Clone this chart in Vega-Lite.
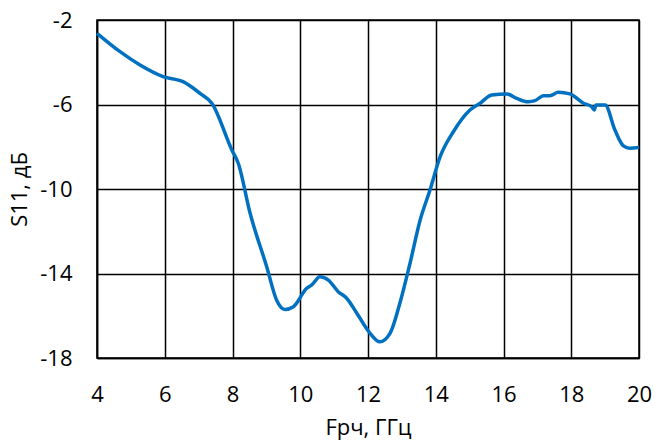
{
  "$schema": "https://vega.github.io/schema/vega-lite/v6.json",
  "width": 542,
  "height": 338,
  "autosize": {"type": "none"},
  "padding": {"left": 97, "top": 20, "right": 15, "bottom": 83},
  "background": "white",
  "config": {"view": {"stroke": "black", "strokeWidth": 1.5}, "font": "Open Sans"},
  "data": {"values": [
    {"f": 4.0, "s": -2.63},
    {"f": 4.68, "s": -3.5},
    {"f": 5.27, "s": -4.13},
    {"f": 5.95, "s": -4.68},
    {"f": 6.54, "s": -4.92},
    {"f": 7.04, "s": -5.47},
    {"f": 7.39, "s": -5.94},
    {"f": 7.98, "s": -8.15},
    {"f": 8.17, "s": -8.78},
    {"f": 8.52, "s": -11.15},
    {"f": 9.01, "s": -13.68},
    {"f": 9.3, "s": -15.25},
    {"f": 9.55, "s": -15.7},
    {"f": 9.8, "s": -15.57},
    {"f": 10.19, "s": -14.7},
    {"f": 10.34, "s": -14.54},
    {"f": 10.58, "s": -14.15},
    {"f": 10.83, "s": -14.31},
    {"f": 11.12, "s": -14.86},
    {"f": 11.37, "s": -15.17},
    {"f": 11.67, "s": -15.88},
    {"f": 12.06, "s": -16.83},
    {"f": 12.35, "s": -17.23},
    {"f": 12.65, "s": -16.83},
    {"f": 12.94, "s": -15.41},
    {"f": 13.24, "s": -13.52},
    {"f": 13.54, "s": -11.47},
    {"f": 13.83, "s": -10.05},
    {"f": 14.13, "s": -8.47},
    {"f": 14.52, "s": -7.29},
    {"f": 15.01, "s": -6.26},
    {"f": 15.31, "s": -5.94},
    {"f": 15.65, "s": -5.55},
    {"f": 16.1, "s": -5.5},
    {"f": 16.39, "s": -5.71},
    {"f": 16.73, "s": -5.87},
    {"f": 16.93, "s": -5.82},
    {"f": 17.18, "s": -5.58},
    {"f": 17.37, "s": -5.58},
    {"f": 17.62, "s": -5.42},
    {"f": 17.96, "s": -5.5},
    {"f": 18.36, "s": -5.94},
    {"f": 18.6, "s": -6.1},
    {"f": 18.68, "s": -6.26},
    {"f": 18.73, "s": -6.02},
    {"f": 19.0, "s": -6.02},
    {"f": 19.29, "s": -7.21},
    {"f": 19.54, "s": -7.96},
    {"f": 19.73, "s": -8.07},
    {"f": 20.0, "s": -8.03}
  ]},
  "mark": {"type": "line", "color": "#0070C0", "strokeWidth": 3.5, "interpolate": "monotone"},
  "encoding": {
    "x": {"field": "f", "type": "quantitative", "scale": {"domain": [4, 20], "nice": false},
      "axis": {"values": [4, 6, 8, 10, 12, 14, 16, 18, 20], "labelFlush": false, "labelOverlap": false, "title": "Fрч, ГГц", "grid": true, "gridColor": "black", "gridWidth": 1.5, "gridOpacity": 1,
        "domainColor": "black", "domainWidth": 1.5, "ticks": false, "labelPadding": 26, "labelFontSize": 22, "labelColor": "black",
        "titleFontSize": 22, "titleFontWeight": "normal", "titleColor": "black", "titlePadding": 12}},
    "y": {"field": "s", "type": "quantitative", "scale": {"domain": [-18, -2], "nice": false},
      "axis": {"values": [-18, -14, -10, -6, -2], "labelExpr": "'' + datum.value", "title": "S11, дБ", "grid": true, "gridColor": "black", "gridWidth": 1.5, "gridOpacity": 1,
        "domainColor": "black", "domainWidth": 1.5, "ticks": false, "labelPadding": 25, "labelFontSize": 22, "labelColor": "black",
        "titleFontSize": 22, "titleFontWeight": "normal", "titleColor": "black", "titlePadding": 8}}
  }
}
